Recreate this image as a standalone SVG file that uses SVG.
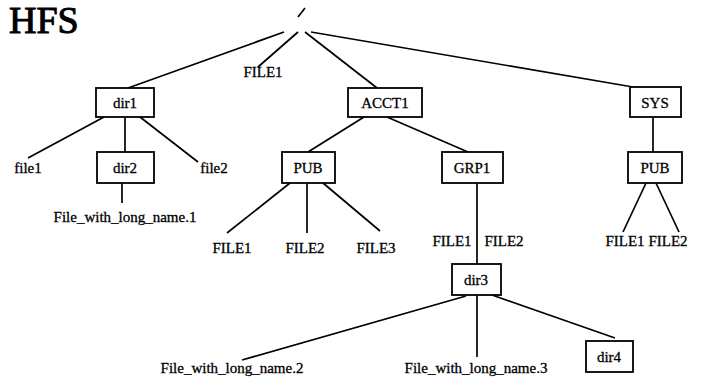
<svg xmlns="http://www.w3.org/2000/svg" width="706" height="387" viewBox="0 0 706 387">
<style>
.bg{fill:#fff}
.box{fill:#fff;stroke:#000;stroke-width:1.8}
.t{font-family:"Liberation Serif","Times New Roman",serif;font-size:15px;fill:#000;stroke:#000;stroke-width:0.3;text-anchor:middle}
.title{font-family:"Liberation Serif","Times New Roman",serif;font-size:38px;fill:#000;stroke:#000;stroke-width:1}
#connectors line{stroke:#000;stroke-width:1.7;fill:none}
</style>
<rect class="bg" x="0" y="0" width="706" height="387"/>
<text class="title" x="9" y="33">HFS</text>
<g id="connectors">
<line x1="298" y1="17" x2="305" y2="8"/>
<line x1="284" y1="32" x2="128" y2="88"/>
<line x1="298" y1="32" x2="258" y2="67"/>
<line x1="305" y1="32" x2="377" y2="88"/>
<line x1="311" y1="32" x2="633" y2="87"/>
<line x1="104" y1="117" x2="28" y2="158"/>
<line x1="125" y1="117" x2="125" y2="152"/>
<line x1="140" y1="117" x2="198" y2="162"/>
<line x1="122" y1="183" x2="122" y2="203"/>
<line x1="364" y1="117" x2="308" y2="152"/>
<line x1="387" y1="117" x2="468" y2="152"/>
<line x1="653" y1="117" x2="653" y2="152"/>
<line x1="290" y1="183" x2="227" y2="233"/>
<line x1="307" y1="183" x2="307" y2="233"/>
<line x1="323" y1="183" x2="380" y2="231"/>
<line x1="477" y1="183" x2="477" y2="264"/>
<line x1="646" y1="183" x2="623" y2="232"/>
<line x1="656" y1="183" x2="679" y2="232"/>
<line x1="466" y1="296" x2="242" y2="360"/>
<line x1="477" y1="295" x2="477" y2="357"/>
<line x1="492" y1="295" x2="615" y2="338"/>
</g>
<g id="root"></g>
<g id="dir1"><rect class="box" x="96" y="88" width="58" height="29"/><text class="t" x="125" y="108">dir1</text></g>
<g id="FILE1_root"><text class="t" x="263" y="77">FILE1</text></g>
<g id="ACCT1"><rect class="box" x="348" y="88" width="74" height="29"/><text class="t" x="385" y="108">ACCT1</text></g>
<g id="SYS"><rect class="box" x="630" y="87" width="51" height="30"/><text class="t" x="655" y="108">SYS</text></g>
<g id="file1"><text class="t" x="28" y="173">file1</text></g>
<g id="dir2"><rect class="box" x="97" y="152" width="57" height="31"/><text class="t" x="125" y="173">dir2</text></g>
<g id="file2"><text class="t" x="214" y="173">file2</text></g>
<g id="long1"><text class="t" x="125" y="222">File_with_long_name.1</text></g>
<g id="PUB1"><rect class="box" x="282" y="152" width="53" height="31"/><text class="t" x="308" y="173">PUB</text></g>
<g id="GRP1"><rect class="box" x="442" y="152" width="61" height="31"/><text class="t" x="472" y="173">GRP1</text></g>
<g id="PUB2"><rect class="box" x="628" y="152" width="54" height="31"/><text class="t" x="655" y="173">PUB</text></g>
<g id="pub1_FILE1"><text class="t" x="232" y="253">FILE1</text></g>
<g id="pub1_FILE2"><text class="t" x="305" y="253">FILE2</text></g>
<g id="pub1_FILE3"><text class="t" x="376" y="253">FILE3</text></g>
<g id="grp1_FILE1"><text class="t" x="452" y="246">FILE1</text></g>
<g id="grp1_FILE2"><text class="t" x="504" y="246">FILE2</text></g>
<g id="pub2_FILE1"><text class="t" x="625" y="246">FILE1</text></g>
<g id="pub2_FILE2"><text class="t" x="668" y="246">FILE2</text></g>
<g id="dir3"><rect class="box" x="452" y="264" width="49" height="31"/><text class="t" x="476" y="285">dir3</text></g>
<g id="long2"><text class="t" x="232" y="373">File_with_long_name.2</text></g>
<g id="long3"><text class="t" x="476" y="373">File_with_long_name.3</text></g>
<g id="dir4"><rect class="box" x="586" y="341" width="47" height="31"/><text class="t" x="609" y="362">dir4</text></g>
</svg>
